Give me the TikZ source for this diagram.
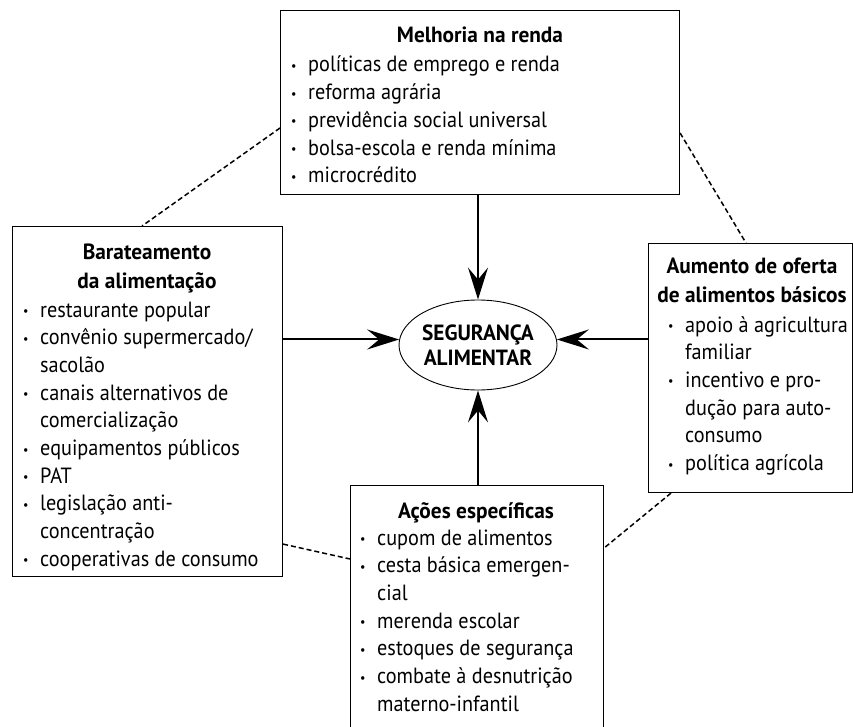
\documentclass[tikz,border=0pt]{standalone}
\usepackage{fontspec}
\setmainfont{PT Sans}[FakeStretch=0.92]
\newfontfamily\negrito{PT Sans}[FakeStretch=0.97]
\usepackage{graphicx}
\usetikzlibrary{arrows.meta, shapes.geometric}

\newcommand{\itm}{\makebox[17pt][l]{\raisebox{1.5pt}{\fontsize{13}{13}\selectfont\textbullet}}}
\newcommand{\cnt}{\hspace*{17pt}}

\tikzset{
	caixa/.style={draw, line width=1.1pt, rectangle, anchor=north west, inner sep=0pt},
	titulo/.style={anchor=base, font=\fontsize{22}{27.7}\selectfont\negrito\bfseries, inner sep=0pt},
	lista/.style={anchor=base west, inner sep=0pt},
	seta/.style={line width=2pt, -{Stealth[length=32pt, width=20pt, inset=12pt]}},
	ligacao/.style={line width=1.5pt, dash pattern=on 5pt off 3pt}
}

\begin{document}
\begin{tikzpicture}[x=1pt, y=-1pt, font=\fontsize{22}{27.7}\selectfont]
			\useasboundingbox (0,0) rectangle (853,727);
			\clip (0,0) rectangle (853,727);
			
			\node[caixa, minimum width=399pt, minimum height=184pt] (melhoria) at (280,10) {};
			\node[caixa, minimum width=270pt, minimum height=350pt] (barateamento) at (12,226) {};
			\node[caixa, minimum width=204pt, minimum height=249pt] (aumento) at (648,243) {};
			\node[caixa, minimum width=253pt, minimum height=275pt] (acoes) at (350,485) {};
			\node[draw, ellipse, line width=0.9pt, minimum width=133pt, minimum height=90pt, inner sep=0pt, align=center,
				font=\fontsize{22}{25}\selectfont\negrito\bfseries] (seg) at (478,345) {SEGURANÇA\\ALIMENTAR};
			
			\node[titulo] (tmelhoria) at (480,43) {Melhoria na renda};
			\node[lista] (lmelhoria) at (291,72) {\begin{tabular}[t]{@{}l@{}}
				\itm políticas de emprego e renda\\
				\itm reforma agrária\\
				\itm previdência social universal\\
				\itm bolsa-escola e renda mínima\\
				\itm microcrédito
			\end{tabular}};
			
			\node[titulo] (tbarateamento) at (147,259) {\begin{tabular}[t]{@{}c@{}}
				Barateamento\\[1.3pt] da alimentação
			\end{tabular}};
			\node[lista] (lbarateamento) at (23,317) {\begin{tabular}[t]{@{}l@{}}
				\itm restaurante popular\\
				\itm convênio supermercado/\\
				\cnt sacolão\\
				\itm canais alternativos de\\
				\cnt comercialização\\
				\itm equipamentos públicos\\
				\itm PAT\\
				\itm legislação anti-\\
				\cnt concentração\\
				\itm cooperativas de consumo
			\end{tabular}};
			
			\node[titulo] (taumento) at (752,273) {\begin{tabular}[t]{@{}c@{}}
				Aumento de oferta\\[1.3pt] de alimentos básicos
			\end{tabular}};
			\node[lista] (laumento) at (668,332) {\begin{tabular}[t]{@{}l@{}}
				\itm apoio à agricultura\\
				\cnt familiar\\
				\itm incentivo e pro-\\
				\cnt dução para auto-\\
				\cnt consumo\\
				\itm política agrícola
			\end{tabular}};
			
			\node[titulo] (tacoes) at (476,518) {Ações específicas};
			\node[lista] (lacoes) at (360,545) {\begin{tabular}[t]{@{}l@{}}
				\itm cupom de alimentos\\
				\itm cesta básica emergen-\\
				\cnt cial\\
				\itm merenda escolar\\
				\itm estoques de segurança\\
				\itm combate à desnutrição\\
				\cnt materno-infantil
			\end{tabular}};
			
			\draw[seta] (seg.north |- melhoria.south) -- (seg.north);
			\draw[seta] (seg.south |- acoes.north) -- (seg.south);
			\draw[seta] (barateamento.east |- seg.176) -- (seg.176);
			\draw[seta] (aumento.west |- seg.4) -- (seg.4);
			
			\draw[ligacao] ([yshift=-118pt]melhoria.north west) -- ([xshift=130pt]barateamento.north west);
			\draw[ligacao] ([yshift=-123pt]melhoria.north east) -- ([xshift=98pt]aumento.north west);
			\draw[ligacao] ([xshift=23pt]aumento.south west) -- ([yshift=-63pt]acoes.north east);
			\draw[ligacao] ([yshift=33pt]barateamento.south east) -- ([yshift=-74pt]acoes.north west);
			
\end{tikzpicture}
\end{document}
